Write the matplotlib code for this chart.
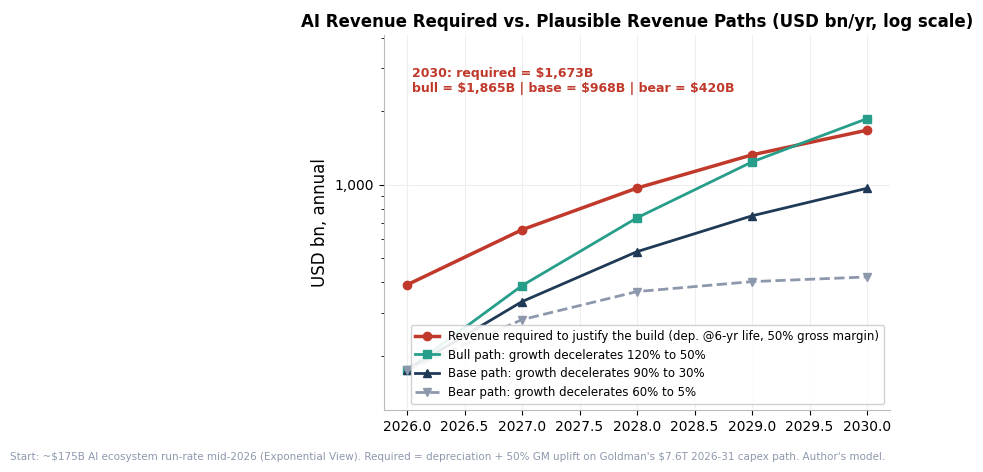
import matplotlib
matplotlib.use("Agg")
import matplotlib.pyplot as plt
from matplotlib.ticker import FixedLocator, FuncFormatter, NullFormatter, LogLocator

plt.rcParams['text.parse_math'] = False

years = [2026, 2027, 2028, 2029, 2030]
required = [390, 655, 970, 1326, 1673]
bull = [175, 387, 733, 1241, 1865]
base = [175, 333, 533, 747, 968]
bear = [175, 281, 366, 402, 420]

fig = plt.figure(figsize=(9.83, 4.72), dpi=100)
ax = fig.add_axes([384/983, 1-410/472, (890-384)/983, (410-35)/472])
ax.plot(years, required, '-o', color='#c0392b', lw=2.5, ms=6, label='Revenue required to justify the build (dep. @6-yr life, 50% gross margin)')
ax.plot(years, bull, '-s', color='#269e8a', lw=2, ms=6, label='Bull path: growth decelerates 120% to 50%')
ax.plot(years, base, '-^', color='#1f3a56', lw=2, ms=6, label='Base path: growth decelerates 90% to 30%')
ax.plot(years, bear, '--v', color='#8e98ad', lw=2, ms=6, label='Bear path: growth decelerates 60% to 5%')
ax.set_yscale('log')
ax.set_ylim(120, 4100)
ax.set_xlim(2025.8, 2030.2)
ax.yaxis.set_major_locator(FixedLocator([1000]))
ax.yaxis.set_major_formatter(FuncFormatter(lambda v, p: f"{v:,.0f}"))
ax.yaxis.set_minor_locator(LogLocator(subs=range(2, 10)))
ax.yaxis.set_minor_formatter(NullFormatter())
ax.set_xticks([2026 + 0.5*i for i in range(9)])
ax.set_xticklabels([f"{2026 + 0.5*i:.1f}" for i in range(9)])
ax.grid(True, color='#eeeeee', lw=0.8)
for s in ['top', 'right']:
    ax.spines[s].set_visible(False)
for s in ['left', 'bottom']:
    ax.spines[s].set_color('#bbbbbb')
ax.set_ylabel('USD bn, annual', fontsize=12)
ax.set_title('AI Revenue Required vs. Plausible Revenue Paths (USD bn/yr, log scale)', fontsize=12, fontweight='bold')
ax.text(0.055, 0.915, '2030: required = $1,673B\nbull = $1,865B | base = $968B | bear = $420B',
        transform=ax.transAxes, color='#c0392b', fontsize=9, fontweight='bold', va='top')
ax.legend(loc='lower right', fontsize=8.5, framealpha=0.9)
fig.text(10/983, 1-457/472, "Start: ~$175B AI ecosystem run-rate mid-2026 (Exponential View). Required = depreciation + 50% GM uplift on Goldman's $7.6T 2026-31 capex path. Author's model.",
         fontsize=7.5, color='#8e98ad', va='center')
fig.savefig('out.png', dpi=100)
